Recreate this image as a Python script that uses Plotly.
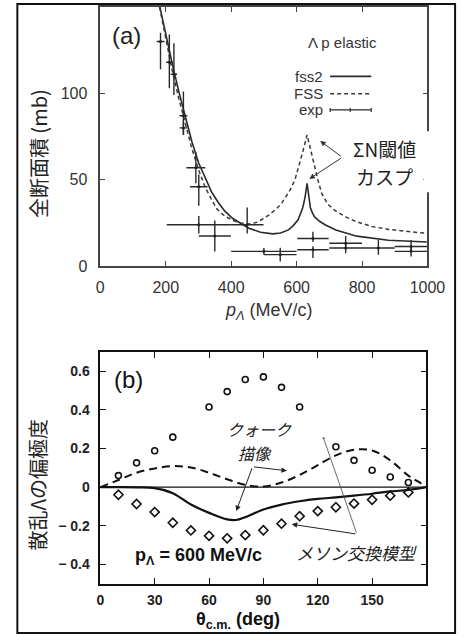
import plotly.graph_objects as go

W, H = 475, 644
def px(x): return x / W
def py(y): return 1 - y / H

JP = "Noto Sans CJK JP"
SANS = "Liberation Sans, Arial, sans-serif"

# ---------------- Panel (a): Λp elastic total cross section ----------------
fss2_p = [182, 200, 220, 240, 260, 280, 300, 320, 340, 360, 380, 405, 430, 454, 490, 527,
          551, 575, 590, 605, 619, 626, 632, 637, 642, 648, 655, 670, 687, 720, 784, 881, 998]
fss2_s = [150, 134, 117, 101, 86, 72, 60, 51, 43, 37, 32, 27.6, 24.5, 22, 19.6, 18.7,
          19.2, 21, 23.5, 27, 34, 40, 48, 40, 34, 31, 28.5, 26, 24, 21, 17.4, 15, 14]

fss_p = [181, 200, 220, 240, 260, 280, 300, 320, 340, 357, 380, 405, 430, 459, 480, 493, 515,
         527, 541, 551, 565, 580, 595, 609, 620, 632, 642, 653, 665, 677, 695, 716, 750, 784,
         830, 881, 940, 998]
fss_s = [150, 131, 113, 97, 82, 68, 56, 46, 38.5, 33, 29, 26.5, 25, 24.4, 25.5, 27, 29.5,
         31.4, 33.5, 35.5, 39.5, 44, 50, 59, 67, 76, 68, 59, 50, 42, 36, 32.4, 28.5, 25.7,
         23, 21.3, 20, 19]

exp_p = [184, 211, 225, 254, 254, 292, 301, 301, 350, 449, 500, 550, 650, 650, 750, 750, 850, 950, 950]
exp_s = [130, 118, 111, 87, 80, 57, 46, 24, 17.5, 24, 8.6, 6.7, 16, 9.5, 13.3, 10.5, 10.5, 11.4, 8.6]
exp_dp = [12, 10, 10, 12, 12, 29, 27, 98, 49, 50, 100, 50, 48, 48, 50, 50, 50, 50, 50]
exp_ds_plus = [5, 16, 18, 14, 4, 9, 7, 5, 9, 10, 2, 4, 4, 2, 4.2, 2, 4.7, 3.8, 2]
exp_ds_minus = [16, 15, 12, 11, 4, 9, 11, 5, 9, 5, 2, 4, 2, 4.8, 2, 3, 3.8, 2, 3]

a_xticks = [0, 200, 400, 600, 800, 1000]
a_yticks = [0, 50, 100]

# ---------------- Panel (b): Λ polarization at 600 MeV/c ----------------
circ_theta = [10, 20, 30, 40, 60, 70, 80, 90, 100, 110, 130, 140, 150, 160, 170]
circ_P = [0.06, 0.126, 0.189, 0.259, 0.415, 0.495, 0.558, 0.571, 0.517, 0.415,
          0.209, 0.139, 0.088, 0.053, 0.024]

diam_theta = [10, 20, 30, 40, 50, 60, 70, 80, 90, 100, 110, 120, 130, 140, 150, 160, 170]
diam_P = [-0.039, -0.087, -0.129, -0.184, -0.224, -0.252, -0.265, -0.248, -0.223,
          -0.189, -0.150, -0.124, -0.104, -0.085, -0.065, -0.044, -0.027]

dash_theta = [0, 10, 20, 30, 40, 50, 60, 70, 80, 90, 100, 110, 120, 130, 140, 150, 160, 170, 177, 180]
dash_P = [0, 0.037, 0.075, 0.097, 0.109, 0.102, 0.075, 0.041, 0.012, 0.003, 0.024, 0.063,
          0.114, 0.165, 0.194, 0.190, 0.139, 0.060, 0.02, 0]

solid_theta = [0, 10, 20, 30, 40, 50, 60, 70, 75, 80, 90, 100, 110, 120, 130, 140, 150, 160, 170, 180]
solid_P = [0, 0, -0.001, -0.005, -0.031, -0.09, -0.133, -0.167, -0.17, -0.155, -0.116,
           -0.09, -0.073, -0.061, -0.053, -0.044, -0.034, -0.022, -0.014, 0]

b_xticks = [0, 30, 60, 90, 120, 150, 180]
b_xlabels = ["0", "30", "60", "90", "120", "150", ""]
b_yticks = [0.6, 0.4, 0.2, 0, -0.2, -0.4]
b_ylabels = ["0.6", "0.4", "0.2", "0", "\u2212 0.2", "\u2212 0.4"]

fig = go.Figure()

# panel a traces
fig.add_trace(go.Scatter(x=fss2_p, y=fss2_s, mode="lines",
                         line=dict(color="#2a2a2a", width=1.6), xaxis="x", yaxis="y",
                         showlegend=False))
fig.add_trace(go.Scatter(x=fss_p, y=fss_s, mode="lines",
                         line=dict(color="#3a3a3a", width=1.5, dash="4px,3px"),
                         xaxis="x", yaxis="y", showlegend=False))
fig.add_trace(go.Scatter(x=exp_p, y=exp_s, mode="markers",
                         marker=dict(color="#222", size=3),
                         error_x=dict(type="data", array=exp_dp, color="#2a2a2a", thickness=1.4, width=0),
                         error_y=dict(type="data", array=exp_ds_plus, arrayminus=exp_ds_minus,
                                      symmetric=False, color="#2a2a2a", thickness=1.4, width=0),
                         xaxis="x", yaxis="y", showlegend=False))

# panel b traces
fig.add_trace(go.Scatter(x=dash_theta, y=dash_P, mode="lines", line_shape="spline",
                         line=dict(color="#111", width=2, dash="8px,5px"),
                         xaxis="x2", yaxis="y2", showlegend=False))
fig.add_trace(go.Scatter(x=solid_theta, y=solid_P, mode="lines", line_shape="spline",
                         line=dict(color="#111", width=2.2),
                         xaxis="x2", yaxis="y2", showlegend=False))
fig.add_trace(go.Scatter(x=circ_theta, y=circ_P, mode="markers",
                         marker=dict(symbol="circle-open", size=6, color="#111", line=dict(width=1.6)),
                         xaxis="x2", yaxis="y2", showlegend=False))
fig.add_trace(go.Scatter(x=diam_theta, y=diam_P, mode="markers",
                         marker=dict(symbol="diamond-open", size=7, color="#111", line=dict(width=1.6)),
                         xaxis="x2", yaxis="y2", showlegend=False))

axis_a = dict(showline=True, linecolor="#444", linewidth=1.5, mirror="ticks",
              ticks="inside", ticklen=5, tickcolor="#444", showgrid=False, zeroline=False,
              tickfont=dict(family=SANS, size=16, color="#333"))
axis_b = dict(showline=True, linecolor="#111", linewidth=1.5, mirror="ticks",
              ticks="inside", ticklen=6, tickcolor="#111", showgrid=False, zeroline=False,
              tickfont=dict(family=SANS, size=14, color="#222", weight="bold"))

fig.update_layout(
    width=W, height=H, margin=dict(l=0, r=0, t=0, b=0),
    paper_bgcolor="white", plot_bgcolor="white", showlegend=False,
    xaxis=dict(axis_a, domain=[px(101), px(444)], range=[0, 1000], tickvals=a_xticks,
               anchor="y", ticklabelstandoff=6),
    yaxis=dict(axis_a, domain=[py(270), py(7)], range=[0, 150], tickvals=a_yticks,
               anchor="x", ticklabelstandoff=8),
    xaxis2=dict(axis_b, domain=[px(101), px(443)], range=[0, 180], tickvals=b_xticks,
                ticktext=b_xlabels, anchor="y2", ticklabelstandoff=3),
    yaxis2=dict(axis_b, domain=[py(592), py(357)], range=[-0.5, 0.7], tickvals=b_yticks,
                ticktext=b_ylabels, anchor="x2", ticklabelstandoff=6),
)

shapes = []
# outer frame
shapes.append(dict(type="rect", xref="paper", yref="paper", x0=px(14), x1=px(473),
                   y0=py(642), y1=py(4), line=dict(color="#111", width=2), layer="above"))
# gap in right border of panel (a) behind the cusp label
shapes.append(dict(type="rect", xref="paper", yref="paper", x0=px(440), x1=px(448),
                   y0=py(195), y1=py(133), line=dict(width=0), fillcolor="white", layer="above"))
# zero line panel (b)
shapes.append(dict(type="line", xref="x2", yref="y2", x0=0, x1=180, y0=0, y1=0,
                   line=dict(color="#111", width=1.2)))
# legend samples panel (a)
shapes.append(dict(type="line", xref="paper", yref="paper", x0=px(342), x1=px(385),
                   y0=py(77.5), y1=py(77.5), line=dict(color="#2a2a2a", width=1.6)))
shapes.append(dict(type="line", xref="paper", yref="paper", x0=px(342), x1=px(385),
                   y0=py(95), y1=py(95), line=dict(color="#3a3a3a", width=1.5, dash="4px,3px")))
shapes.append(dict(type="line", xref="paper", yref="paper", x0=px(342), x1=px(385),
                   y0=py(111.5), y1=py(111.5), line=dict(color="#2a2a2a", width=1.3)))
for xx in (342, 363, 385):
    shapes.append(dict(type="line", xref="paper", yref="paper", x0=px(xx), x1=px(xx),
                       y0=py(109.5), y1=py(113.5), line=dict(color="#2a2a2a", width=1.2)))
fig.update_layout(shapes=shapes)

ann = []
def text(x, y, s, size, color="#222", family=SANS, xanchor="center", angle=0, **kw):
    ann.append(dict(x=px(x), y=py(y), xref="paper", yref="paper", text=s, showarrow=False,
                    xanchor=xanchor, yanchor="middle", textangle=angle,
                    font=dict(family=family, size=size, color=color), **kw))

# panel (a) texts
text(128, 36, "(a)", 24, "#222")
text(355, 43, "Λ p elastic", 15, "#333")
text(337, 77.5, "fss2", 15, "#333", xanchor="right")
text(337, 95, "FSS", 15, "#333", xanchor="right")
text(337, 111.5, "exp", 15, "#333", xanchor="right")
text(399, 151, "ΣN閾値", 19, "#222", family=JP)
text(399, 179, "カスプ", 19, "#222", family=JP)
text(37, 156, "全断面積 (mb)", 20, "#222", family=JP, angle=-90)
text(277, 316, "<i>p</i><sub><i>Λ</i></sub> (MeV/c)", 18, "#333")

# panel (b) texts
text(131, 385, "(b)", 24, "#111")
text(268, 435, "<i>クォーク</i>", 16, "#222", family=JP)
text(263, 459, "<i>描像</i>", 16, "#222", family=JP)
text(370, 560, "<i>メソン交換模型</i>", 17, "#222", family=JP)
text(204, 564, "<b>p<sub>Λ</sub> = 600 MeV/c</b>", 18, "#111")
text(35, 491, "散乱Λの偏極度", 20, "#222", family=JP, angle=-90)
text(245, 629, "<b>θ<sub>c.m.</sub> (deg)</b>", 18, "#111")

# arrows panel (a)
for hx, hy in ((672, 72.5), (639, 50.5)):
    ann.append(dict(x=hx, y=hy, xref="x", yref="y", ax=740, ay=63, axref="x", ayref="y",
                    text="", showarrow=True, arrowhead=2, arrowsize=1.1, arrowwidth=1,
                    arrowcolor="#333"))
# arrows panel (b)
for hx, hy in ((103, 0.085), (75, -0.124)):
    ann.append(dict(x=hx, y=hy, xref="x2", yref="y2", ax=84, ay=0.106, axref="x2", ayref="y2",
                    text="", showarrow=True, arrowhead=2, arrowsize=1.1, arrowwidth=1,
                    arrowcolor="#222"))
ann.append(dict(x=105.6, y=-0.192, xref="x2", yref="y2", ax=141.6, ay=-0.243, axref="x2", ayref="y2",
                text="", showarrow=True, arrowhead=2, arrowsize=1.1, arrowwidth=1, arrowcolor="#222"))
ann.append(dict(x=123.2, y=0.254, xref="x2", yref="y2", ax=141.6, ay=-0.243, axref="x2", ayref="y2",
                text="", showarrow=True, arrowhead=6, arrowsize=0.6, arrowwidth=0.8, arrowcolor="#444"))

fig.update_layout(annotations=ann)
fig.write_html("out.html", config={"displayModeBar": False},
               post_script="document.body.style.margin='0';document.body.style.overflow='hidden';")
